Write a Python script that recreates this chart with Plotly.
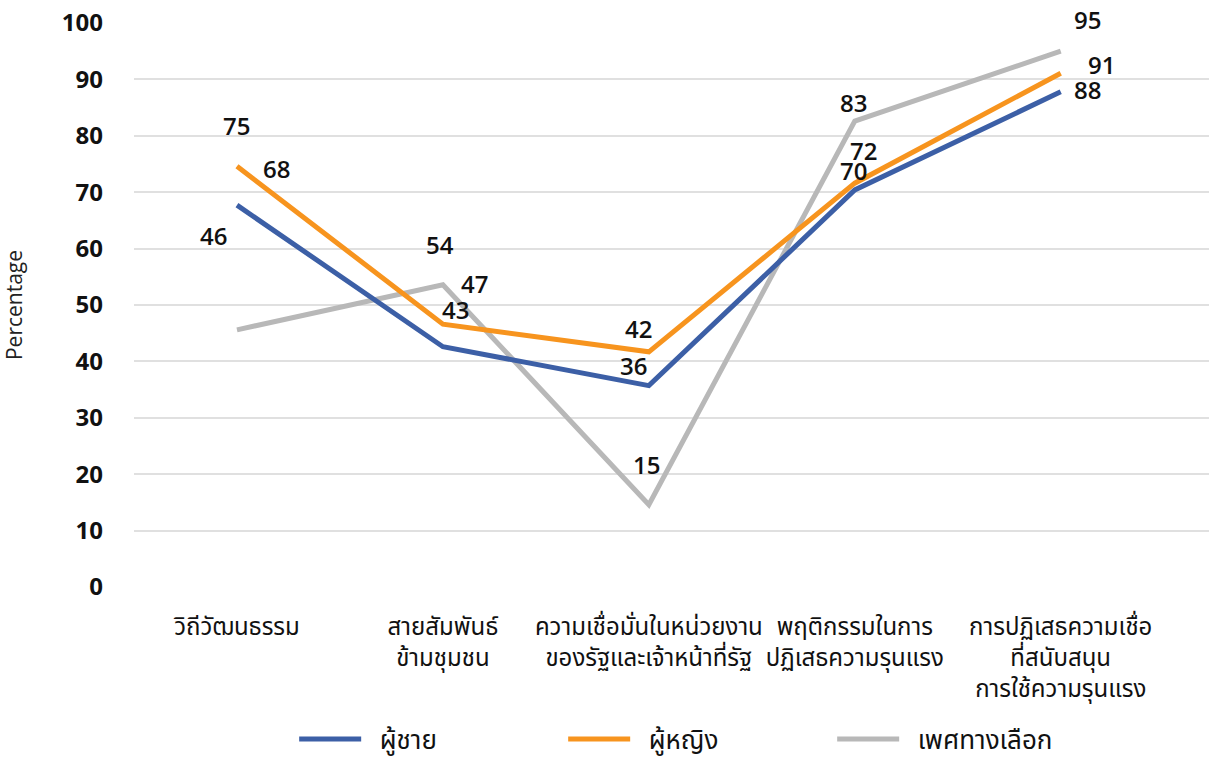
import plotly.graph_objects as go

categories = [
    "วิถีวัฒนธรรม",
    "สายสัมพันธ์<br>ข้ามชุมชน",
    "ความเชื่อมั่นในหน่วยงาน<br>ของรัฐและเจ้าหน้าที่รัฐ",
    "พฤติกรรมในการ<br>ปฏิเสธความรุนแรง",
    "การปฏิเสธความเชื่อ<br>ที่สนับสนุน<br>การใช้ความรุนแรง",
]

male = [67.7, 42.6, 35.7, 70.4, 87.8]
female = [74.6, 46.6, 41.7, 71.6, 91.1]
alternative = [45.6, 53.6, 14.6, 82.6, 95.0]

series_names = ["ผู้ชาย", "ผู้หญิง", "เพศทางเลือก"]

# label offsets (px) as they sit in the original chart: (dx, dy up)
label_offsets = {
    "ผู้ชาย": [(40, 37), (13, 37), (-15, 20), (-1, 19), (27, 2)],
    "ผู้หญิง": [(0, 41), (32, 41), (-10, 23), (9, 33), (41, 9)],
    "เพศทางเลือก": [(-23, 94), (-3, 40), (-2, 40), (-1, 19), (27, 32)],
}

colors = {"ผู้ชาย": "#3C5FA6", "ผู้หญิง": "#F7941E", "เพศทางเลือก": "#B8B8B8"}
# gray drawn first so it sits underneath
draw_order = ["เพศทางเลือก", "ผู้ชาย", "ผู้หญิง"]
values = {"ผู้ชาย": male, "ผู้หญิง": female, "เพศทางเลือก": alternative}

num_font = "Open Sans, Noto Sans, sans-serif"
thai_font = "Noto Sans Thai, Noto Sans, sans-serif"

fig = go.Figure()
x_idx = list(range(len(categories)))

for name in draw_order:
    fig.add_trace(go.Scatter(
        x=x_idx, y=values[name], mode="lines",
        name="\u00a0\u00a0" + name,  # a bit of room between swatch and text
        line=dict(color=colors[name], width=5),
        legendrank=series_names.index(name) + 1,
    ))

for name in series_names:
    for i, v in enumerate(values[name]):
        dx, dy = label_offsets[name][i]
        fig.add_annotation(
            x=i, y=v, text=f"{v:.0f}", showarrow=False,
            xshift=dx, yshift=dy,
            font=dict(family=num_font, size=24, color="#111111", weight=600),
        )

fig.update_layout(
    width=1209, height=758,
    paper_bgcolor="white", plot_bgcolor="white",
    margin=dict(l=134, r=0, t=23, b=171, autoexpand=False),
    showlegend=True,
    legend=dict(
        orientation="h", x=0.149, xanchor="left",
        yref="container", y=0.025, yanchor="middle",
        font=dict(family=thai_font, size=26, color="#111111"),
        itemwidth=62, entrywidth=192, traceorder="normal",
    ),
    xaxis=dict(
        tickmode="array", tickvals=x_idx, ticktext=categories,
        range=[-0.5, 4.72], showgrid=False, zeroline=False, showline=False,
        ticks="", ticklabelstandoff=23,
        tickfont=dict(family=thai_font, size=24, color="#111111"),
        fixedrange=True,
    ),
    yaxis=dict(
        range=[0, 100], dtick=10, tick0=0,
        showgrid=True, gridcolor="#E0E0E0", gridwidth=1.5,
        zeroline=False, showline=False, ticks="",
        ticklabelstandoff=30,
        tickfont=dict(family=num_font, size=24, color="#111111", weight=700),
        title=dict(text="Percentage", standoff=41,
                   font=dict(family="Open Sans, sans-serif", size=21, color="#222222")),
    ),
)

fig.write_html(
    "out.html",
    config={"displayModeBar": False},
    post_script="document.body.style.margin='0';document.documentElement.style.overflow='hidden';",
)
